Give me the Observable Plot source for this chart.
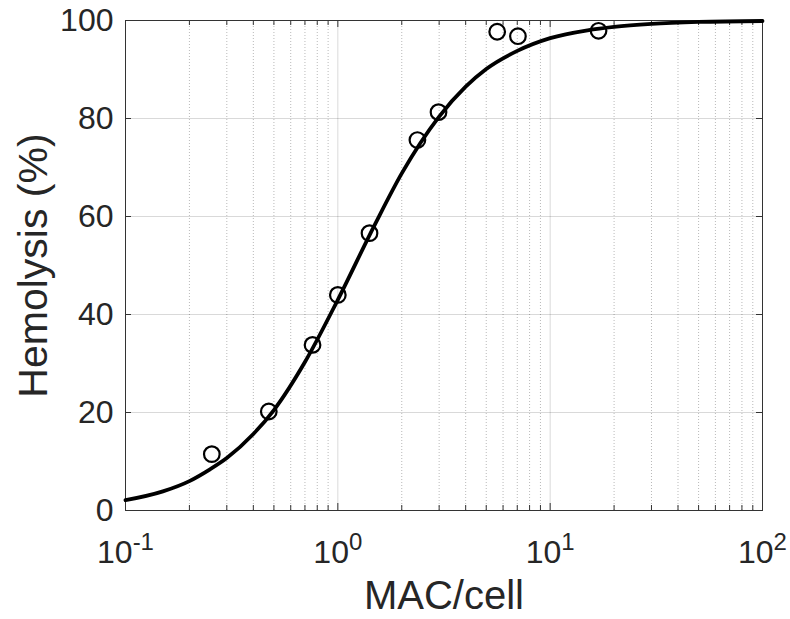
<!DOCTYPE html>
<html>
<head>
<meta charset="utf-8">
<script src="https://cdn.jsdelivr.net/npm/d3@7"></script>
<script src="https://cdn.jsdelivr.net/npm/@observablehq/plot@0.6"></script>
<style>
  html, body { margin: 0; padding: 0; background: #fff; }
  #chart { width: 790px; height: 619px; }
</style>
</head>
<body>
<div id="chart"></div>
<script>
// Measured points (MAC per cell vs hemolysis %)
const pointMAC = [0.255, 0.473, 0.76, 1.0, 1.41, 2.37, 2.98, 5.63, 7.05, 16.9];
const pointHemolysis = [11.5, 20.2, 33.8, 44.0, 56.6, 75.6, 81.3, 97.7, 96.8, 97.9];

// Fitted curve
const curveMAC = [0.1, 0.15, 0.2, 0.25, 0.3, 0.4, 0.5, 0.7, 1, 1.5, 2, 3, 4, 5, 7, 10, 15, 20, 30, 50, 100];
const curveHemolysis = [2.1, 3.9, 6.0, 8.4, 10.7, 15.6, 20.5, 30.3, 43.0, 58.5, 68.8, 80.4, 86.5, 90.1, 93.8, 96.4, 98.0, 98.7, 99.3, 99.7, 99.9];

// Axis ticks
const xMajorTicks = [0.1, 1, 10, 100];
const xTickExponents = ["-1", "0", "1", "2"];
const xMinorTicks = [0.2,0.3,0.4,0.5,0.6,0.7,0.8,0.9, 2,3,4,5,6,7,8,9, 20,30,40,50,60,70,80,90];
const yTicks = [0, 20, 40, 60, 80, 100];

const points = pointMAC.map((x, i) => ({x, y: pointHemolysis[i]}));
const curve = curveMAC.map((x, i) => ({x, y: curveHemolysis[i]}));

const textColor = "#262626";
const frameColor = "#333333";

const chart = Plot.plot({
  width: 790,
  height: 619,
  marginLeft: 125,
  marginRight: 28,
  marginTop: 20,
  marginBottom: 109,
  style: { fontFamily: "'Liberation Sans', Arial, Helvetica, sans-serif", background: "#fff", color: textColor },
  x: { type: "log", domain: [0.1, 100], axis: null },
  y: { domain: [0, 100], axis: null },
  marks: [
    // minor grid (dotted)
    Plot.gridX(xMinorTicks, { stroke: "#000", strokeOpacity: 0.28, strokeDasharray: "1,2", strokeWidth: 1 }),
    // major grid
    Plot.gridX(xMajorTicks, { stroke: "#000", strokeOpacity: 0.15, strokeWidth: 1 }),
    Plot.gridY(yTicks, { stroke: "#000", strokeOpacity: 0.15, strokeWidth: 1 }),
    // inward ticks, bottom and top
    Plot.ruleX(xMinorTicks, { x: d => d, y1: 0, y2: 0, insetTop: -5, stroke: frameColor }),
    Plot.ruleX(xMinorTicks, { x: d => d, y1: 100, y2: 100, insetBottom: -5, stroke: frameColor }),
    Plot.ruleX(xMajorTicks, { x: d => d, y1: 0, y2: 0, insetTop: -7, stroke: frameColor }),
    Plot.ruleX(xMajorTicks, { x: d => d, y1: 100, y2: 100, insetBottom: -7, stroke: frameColor }),
    // inward ticks, left and right
    Plot.ruleY(yTicks, { y: d => d, x1: 0.1, x2: 0.1, insetRight: -6, stroke: frameColor }),
    Plot.ruleY(yTicks, { y: d => d, x1: 100, x2: 100, insetLeft: -6, stroke: frameColor }),
    Plot.frame({ stroke: frameColor, strokeWidth: 1 }),
    // tick labels
    Plot.axisY({ ticks: yTicks, tickSize: 0, tickPadding: 12, fontSize: 32, fill: textColor, label: null }),
    Plot.axisX({ ticks: xMajorTicks, tickSize: 0, tickPadding: 30, fontSize: 32, fill: textColor, label: null, tickFormat: () => "10" }),
    // axis titles
    Plot.text(["MAC/cell"], { frameAnchor: "bottom", dy: 86, fontSize: 40, fill: textColor, lineAnchor: "middle", textAnchor: "middle" }),
    Plot.text(["Hemolysis (%)"], { frameAnchor: "left", dx: -92, rotate: -90, fontSize: 41, fill: textColor, lineAnchor: "middle", textAnchor: "middle" }),
    // fitted curve
    Plot.line(curve, { x: "x", y: "y", curve: "monotone-x", stroke: "#000", strokeWidth: 3.8 }),
    // data points
    Plot.dot(points, { x: "x", y: "y", r: 7.8, stroke: "#000", strokeWidth: 2.2, fill: "none" })
  ]
});

// superscript exponents for the x tick labels
d3.select(chart).selectAll('g[aria-label="x-axis tick label"] text').each(function(d, i) {
  const t = d3.select(this);
  t.append("tspan").attr("dy", "-13").attr("font-size", 24).text(xTickExponents[i]);
});

document.getElementById("chart").appendChild(chart);
</script>
</body>
</html>
